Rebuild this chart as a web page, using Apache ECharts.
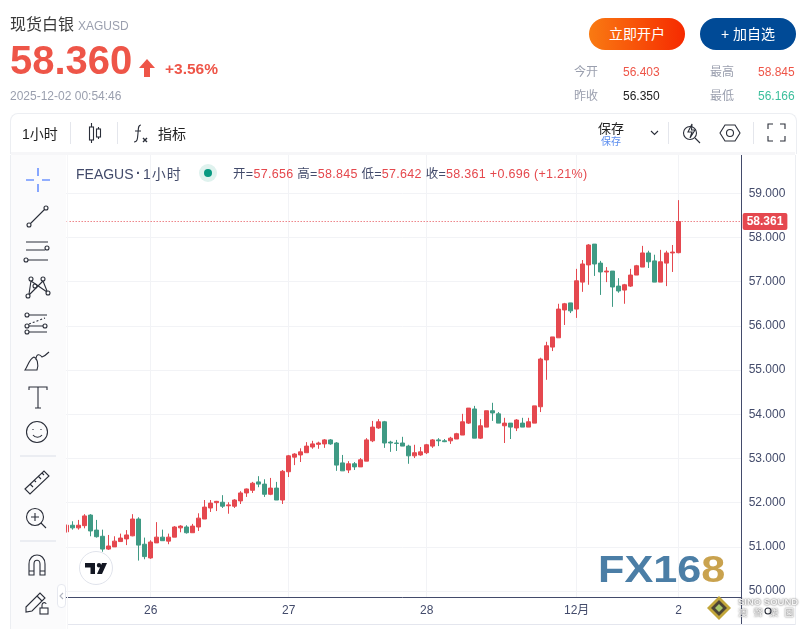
<!DOCTYPE html>
<html>
<head>
<meta charset="utf-8">
<title>现货白银 XAGUSD</title>
<script src="https://cdn.jsdelivr.net/npm/echarts@6/dist/echarts.min.js"></script>
<style>
  html, body { margin: 0; padding: 0; background: #fff; }
  body { width: 806px; height: 629px; overflow: hidden; position: relative;
         font-family: "Liberation Sans", "Noto Sans CJK SC", sans-serif; color: #333; }
  #chart { position: absolute; left: 0; top: 0; width: 806px; height: 629px; }
  .t { position: absolute; white-space: nowrap; line-height: 1; z-index: 5; }
  .box { position: absolute; z-index: 4; }
  svg.ic { position: absolute; z-index: 6; fill: none; stroke: #2a2e39; stroke-width: 1.1; overflow: visible; }
  .btn { position: absolute; top: 18px; height: 32px; width: 96px; border-radius: 16px; color: #fff;
         font-size: 14px; line-height: 32px; text-align: center; z-index: 5; }
  .red { color: #ee5548; }
  .grey { color: #9a9fae; }
</style>
</head>
<body>
<div id="chart"></div>

<!-- header -->
<div class="t" style="left:10px;top:17px;font-size:16px;color:#3a3a3a">现货白银</div>
<div class="t grey" style="left:78px;top:20px;font-size:12px">XAGUSD</div>
<div class="t red" style="left:10px;top:40px;font-size:40px;font-weight:bold">58.360</div>
<svg class="ic" style="left:139px;top:59px;stroke:none" width="17" height="18"><path fill="#ee5548" d="M8 0 L16 9 L11 9 L11 18 L5 18 L5 9 L0 9 Z"/></svg>
<div class="t red" style="left:165px;top:61px;font-size:15.500px;font-weight:bold">+3.56%</div>
<div class="t grey" style="left:10px;top:90px;font-size:12px">2025-12-02 00:54:46</div>

<div class="btn" style="left:589px;background:linear-gradient(90deg,#f97a12,#f62a00)">立即开户</div>
<div class="btn" style="left:700px;background:#004a96">+ 加自选</div>

<div class="t grey" style="left:574px;top:66px;font-size:12px">今开</div>
<div class="t red" style="left:623px;top:66px;font-size:12px">56.403</div>
<div class="t grey" style="left:710px;top:66px;font-size:12px">最高</div>
<div class="t red" style="left:758px;top:66px;font-size:12px">58.845</div>
<div class="t grey" style="left:574px;top:90px;font-size:12px">昨收</div>
<div class="t" style="left:623px;top:90px;font-size:12px;color:#222">56.350</div>
<div class="t grey" style="left:710px;top:90px;font-size:12px">最低</div>
<div class="t" style="left:758px;top:90px;font-size:12px;color:#3cbf9c">56.166</div>

<!-- card and top toolbar -->
<div class="box" style="left:10px;top:113px;width:785px;height:40px;border:1px solid #eceef2;border-bottom:0;border-radius:8px 8px 0 0;background:#fff"></div>
<div class="box" style="left:11px;top:152px;width:784px;height:3px;background:#f6f6f8"></div>
<div class="box" style="left:70px;top:122px;width:1px;height:22px;background:#e4e6ec;z-index:5"></div>
<div class="box" style="left:117px;top:122px;width:1px;height:22px;background:#e4e6ec;z-index:5"></div>
<div class="box" style="left:668px;top:122px;width:1px;height:22px;background:#e4e6ec;z-index:5"></div>
<div class="box" style="left:753px;top:122px;width:1px;height:22px;background:#e4e6ec;z-index:5"></div>
<div class="t" style="left:22px;top:127px;font-size:14px;color:#222">1小时</div>
<svg class="ic" style="left:87px;top:122px" width="16" height="22"><path d="M4.500 1V21M11.500 5V17"/><rect x="2.500" y="5" width="4" height="13" fill="#fff"/><rect x="9.500" y="7" width="4" height="8" fill="#fff"/></svg>
<svg class="ic" style="left:133px;top:124px" width="18" height="20"><path d="M8 1C5 1 5.500 4 5 9C4.500 15 4.500 18 1 18M2 7H8"/><path d="M10 14L14 18M14 14L10 18" stroke-width="1.400"/></svg>
<div class="t" style="left:158px;top:127px;font-size:14px;color:#222">指标</div>
<div class="t" style="left:598px;top:122px;font-size:13px;color:#222">保存</div>
<div class="t" style="left:601px;top:137px;font-size:10px;color:#5b8def">保存</div>
<svg class="ic" style="left:650px;top:130px" width="9" height="6"><path d="M1 1L4.500 4.500L8 1"/></svg>
<svg class="ic" style="left:682px;top:122px" width="18" height="22"><circle cx="8" cy="11" r="6.500"/><path d="M13 16L18 21"/><path d="M10 2L6 10H10L8 16L13 8H9.500Z" fill="#fff"/></svg>
<svg class="ic" style="left:720px;top:123px" width="20" height="20"><path d="M5 2H15L20 10L15 18H5L0 10Z"/><circle cx="10" cy="10" r="3.500"/></svg>
<svg class="ic" style="left:768px;top:124px" width="17" height="17"><path d="M0 5V0H5M12 0H17V5M17 12V17H12M5 17H0V12"/></svg>

<!-- left drawing toolbar -->
<div class="box" style="left:10px;top:155px;width:56px;height:474px;background:#fbfbfc;border-left:1px solid #eceef2;box-sizing:border-box"></div>
<div class="box" style="left:67px;top:155px;width:1px;height:474px;background:#f6f6f8"></div>
<svg class="ic" style="left:20px;top:165px" width="36" height="448">
  <path stroke="#2962ff" d="M6 15H14M22 15H30M18 3V11M18 19V27"/>
  <g transform="translate(0,36)"><circle cx="9" cy="24" r="2"/><circle cx="26" cy="7" r="2"/><path d="M10.500 22.500L24.500 8.500"/></g>
  <g transform="translate(0,72)"><path d="M6 5H28M6 13H25M8 23H28"/><circle cx="27" cy="11" r="2"/><circle cx="6" cy="23" r="2"/></g>
  <g transform="translate(0,108)"><circle cx="11" cy="6" r="2"/><circle cx="23" cy="6" r="2"/><circle cx="8" cy="23" r="2"/><circle cx="28" cy="20" r="2"/><circle cx="15" cy="13" r="2"/><path d="M9 21L11 8M11 8L27 19M23 8L9 22M23 8L27 18"/></g>
  <g transform="translate(0,145)"><circle cx="7" cy="5" r="2"/><circle cx="7" cy="16" r="2"/><circle cx="7" cy="22" r="2"/><circle cx="25" cy="16" r="2"/><path d="M9 5H27M9 16H23M9 22H27"/><path d="M9 14L25 8" stroke-dasharray="2 2"/></g>
  <g transform="translate(0,181)"><path d="M5 24H17C19 18 17 12 14 11C9 13 8 20 5 24ZM16 14C16 7 20 8 22 11C25 10 27 8 29 6"/></g>
  <g transform="translate(0,217)"><path d="M18 5V26M9 8V5H27V8M15 26H21"/></g>
  <g transform="translate(0,252)"><circle cx="17" cy="15" r="10.500"/><path d="M13 18C15 21 20 21 22 18M13 12V13M21 12V13"/></g>
  <path stroke="#dcdfe8" d="M0 291H36"/>
  <g transform="translate(0,300)"><path d="M5 24L24 6L29 11L10 29ZM10 19L13 22M14 15L16 17M18 11L21 14M22 8L24 10"/></g>
  <g transform="translate(0,337)"><circle cx="15" cy="15" r="8.500"/><path d="M21 21L26 26M11 15H19M15 11V19"/></g>
  <path stroke="#dcdfe8" d="M0 376H36"/>
  <g transform="translate(0,385)"><path d="M9 25V14C9 2 25 2 25 14V25H20V14C20 9 14 9 14 14V25ZM9 21H14M20 21H25"/></g>
  <g transform="translate(0,421)"><path d="M6 21L20 7L25 12L12 25L6 26ZM17 10L22 15"/><rect x="20" y="22" width="8" height="6" fill="#fff"/><path d="M22 22V19C22 16 26 16 26 18"/></g>
</svg>
<div class="box" style="left:57px;top:584px;width:9px;height:24px;background:#fff;border:1px solid #e6e8ef;border-radius:4px;box-sizing:border-box;z-index:6"></div>
<svg class="ic" style="left:59px;top:592px;stroke:#b0b4c0" width="5" height="8"><path d="M4 1L1 4L4 7"/></svg>

<!-- pane legend -->
<div class="t" style="left:76px;top:167px;font-size:14px;color:#434b6b">FEAGUS</div>
<div class="t" style="left:136px;top:166px;font-size:14px;font-weight:bold;color:#434b6b">·</div>
<div class="t" style="left:143px;top:167px;font-size:14px;letter-spacing:1px;color:#434b6b">1小时</div>
<div class="box" style="left:199px;top:164px;width:18px;height:18px;border-radius:9px;background:#dff2ee;z-index:5"></div>
<div class="box" style="left:204px;top:169px;width:8px;height:8px;border-radius:4px;background:#089981;z-index:6"></div>
<div class="t" style="left:233px;top:168px;font-size:12.500px;letter-spacing:0.300px;color:#e5484d"><span style="color:#434b6b">开=</span>57.656 <span style="color:#434b6b">高=</span>58.845 <span style="color:#434b6b">低=</span>57.642 <span style="color:#434b6b">收=</span>58.361 +0.696 (+1.21%)</div>

<!-- TV logo, watermarks -->
<div class="box" style="left:79px;top:551px;width:34px;height:34px;border-radius:17px;border:1px solid #e0e3eb;background:#fff;box-sizing:border-box"></div>
<svg class="ic" style="left:85px;top:563px;stroke:none" width="22" height="12"><path fill="#131722" d="M0 0H10V11H5.500V4.500H0ZM14 0A2.200 2.200 0 1 1 14 4.400A2.200 2.200 0 1 1 14 0ZM17 0H22L17 11H12Z"/></svg>
<div class="t" style="left:598px;top:552px;font-size:36px;font-weight:bold;color:#4b7ea6;transform:scaleX(1.200);transform-origin:left;z-index:3">FX16<span style="color:#c9a24e">8</span></div>
<svg class="ic" style="left:707px;top:596px;stroke:none" width="24" height="24"><path fill="#c2a63a" d="M12 0L24 12L12 24L0 12Z"/><path fill="#4c4436" d="M12 4L20 12L12 20L4 12Z"/><path fill="#a7c66a" d="M12 8L16 12L12 16L8 12Z"/></svg>
<div class="t" style="left:738px;top:597px;font-size:9.500px;font-weight:bold;color:#f4f4f4;text-shadow:0 0 2px #444;z-index:7">SINO SOUND</div>
<div class="t" style="left:738px;top:608px;font-size:9.500px;color:#f4f4f4;text-shadow:0 0 2px #444;letter-spacing:6px;z-index:7">澳聲樂園</div>
<svg class="ic" style="left:764px;top:607px;z-index:8" width="8" height="8"><circle cx="4" cy="4" r="3"/></svg>

<div class="box" style="left:741px;top:597px;width:1px;height:27px;background:#434b6b;z-index:1"></div>
<div class="box" style="left:68px;top:624px;width:727px;height:1px;background:#e4e6ee;z-index:1"></div>
<div class="box" style="left:795px;top:155px;width:1px;height:470px;background:#eceef2;z-index:1"></div>

<script>
// candle values, oldest first
const opens = [51.34, 51.49, 51.43, 51.48, 51.72, 51.38, 51.24, 50.95, 51.00, 51.12,
  51.18, 51.25, 51.63, 51.06, 50.75, 51.09, 51.22, 51.13, 51.22, 51.43,
  51.45, 51.32, 51.45, 51.63, 51.88, 52.00, 52.01, 51.93, 51.92, 52.04,
  52.22, 52.28, 52.47, 52.42, 52.19, 52.33, 52.06, 52.70, 53.03, 53.08,
  53.13, 53.26, 53.32, 53.33, 53.42, 53.35, 52.90, 52.74, 52.88, 52.81,
  52.94, 53.40, 53.69, 53.83, 53.37, 53.35, 53.35, 53.28, 53.06, 53.08,
  53.13, 53.28, 53.42, 53.40, 53.40, 53.44, 53.53, 53.80, 54.12, 53.46,
  53.71, 54.08, 54.01, 53.74, 53.80, 53.69, 53.80, 53.71, 53.80, 54.17,
  55.23, 55.52, 55.73, 56.36, 56.52, 56.38, 56.99, 57.38, 57.85, 57.42,
  57.22, 57.24, 56.90, 56.81, 56.90, 57.15, 57.33, 57.65, 57.47, 56.99,
  57.42, 57.65, 57.656];
const closes = [51.49, 51.43, 51.49, 51.70, 51.36, 51.23, 50.95, 51.02, 51.13, 51.20,
  51.27, 51.63, 51.04, 50.78, 51.11, 51.22, 51.14, 51.22, 51.45, 51.47,
  51.32, 51.47, 51.65, 51.90, 51.99, 52.03, 51.92, 51.95, 52.06, 52.22,
  52.31, 52.44, 52.42, 52.19, 52.33, 52.06, 52.71, 53.06, 53.10, 53.15,
  53.28, 53.33, 53.35, 53.42, 53.33, 52.85, 52.72, 52.88, 52.81, 52.97,
  53.42, 53.71, 53.83, 53.35, 53.35, 53.34, 53.28, 53.06, 53.13, 53.15,
  53.31, 53.42, 53.40, 53.38, 53.46, 53.56, 53.83, 54.14, 53.46, 53.74,
  54.08, 54.03, 53.80, 53.80, 53.71, 53.87, 53.71, 53.83, 54.19, 55.25,
  55.55, 55.75, 56.38, 56.50, 56.34, 57.02, 57.40, 57.83, 57.40, 57.22,
  57.24, 56.88, 56.79, 56.93, 57.15, 57.36, 57.65, 57.45, 56.99, 57.45,
  57.65, 57.67, 58.361];
const lows = [51.33, 51.39, 51.39, 51.42, 51.24, 51.21, 50.89, 50.93, 51.00, 51.12,
  51.04, 51.24, 50.69, 50.72, 50.73, 51.09, 51.14, 51.06, 51.22, 51.33,
  51.30, 51.32, 51.36, 51.63, 51.79, 51.81, 51.88, 51.75, 51.88, 51.97,
  52.13, 52.22, 52.35, 52.13, 52.17, 52.06, 51.97, 52.58, 52.85, 52.92,
  53.13, 53.22, 53.22, 53.24, 53.31, 52.72, 52.72, 52.67, 52.74, 52.81,
  52.94, 53.37, 53.67, 53.24, 53.15, 53.17, 53.28, 52.88, 53.01, 53.06,
  53.10, 53.24, 53.28, 53.37, 53.33, 53.44, 53.53, 53.78, 53.46, 53.44,
  53.71, 53.85, 53.80, 53.35, 53.44, 53.62, 53.71, 53.71, 53.80, 54.05,
  54.78, 55.43, 55.73, 56.02, 56.29, 56.18, 56.77, 56.93, 57.13, 56.70,
  56.99, 56.43, 56.75, 56.50, 56.88, 57.15, 57.33, 57.31, 56.99, 56.99,
  56.90, 57.22, 57.642];
const highs = [51.50, 51.58, 51.61, 51.74, 51.74, 51.61, 51.39, 51.27, 51.24, 51.30,
  51.38, 51.74, 51.67, 51.21, 51.15, 51.56, 51.39, 51.30, 51.47, 51.49,
  51.49, 51.52, 51.76, 52.06, 52.06, 52.04, 52.17, 52.01, 52.08, 52.26,
  52.32, 52.47, 52.60, 52.53, 52.56, 52.47, 52.74, 53.08, 53.12, 53.23,
  53.37, 53.40, 53.38, 53.44, 53.44, 53.37, 53.08, 52.94, 52.92, 53.01,
  53.46, 53.85, 53.89, 53.85, 53.40, 53.42, 53.49, 53.31, 53.31, 53.26,
  53.33, 53.44, 53.46, 53.44, 53.49, 53.58, 54.01, 54.14, 54.19, 53.89,
  54.08, 54.26, 54.05, 53.92, 53.80, 53.89, 53.92, 53.92, 54.19, 55.28,
  55.64, 55.75, 56.50, 56.52, 56.52, 57.29, 57.49, 57.85, 57.85, 57.47,
  57.33, 57.24, 57.08, 56.95, 57.29, 57.38, 57.81, 57.70, 57.61, 57.72,
  57.70, 57.83, 58.845];

const tickIndexes = [14, 37, 60, 85, 102];
const tickLabels = ['26', '27', '28', '12月', '2'];
const priceTicks = [50, 51, 52, 53, 54, 55, 56, 57, 58, 59];
const lastPrice = 58.361;
const emptySlots = 10; // blank room right of the last candle

const upColor = '#e5484f';
const downColor = '#3f9a84';
const textColor = '#434b6b';
const gridColor = '#f2f3f6';

const categories = [];
for (let i = 0; i < opens.length + emptySlots; i++) categories.push('c' + i);
const candleData = opens.map((o, i) => [o, closes[i], lows[i], highs[i]]);

const chart = echarts.init(document.getElementById('chart'), null, { renderer: 'canvas' });
chart.setOption({
  animation: false,
  backgroundColor: '#fff',
  grid: { left: 63.67, top: 155, width: 678, height: 442 },
  xAxis: {
    type: 'category',
    data: categories,
    axisLine: { lineStyle: { color: textColor, width: 1 } },
    axisTick: { show: false },
    axisLabel: {
      interval: (i) => tickIndexes.includes(i),
      formatter: (v, i) => tickLabels[tickIndexes.indexOf(i)] || '',
      color: textColor, fontSize: 12, margin: 8,
      fontFamily: '"Liberation Sans", "Noto Sans CJK SC", sans-serif'
    },
    splitLine: {
      show: true,
      alignWithLabel: true,
      interval: (i) => tickIndexes.includes(i),
      lineStyle: { color: gridColor, width: 1 }
    }
  },
  yAxis: {
    type: 'value',
    position: 'right',
    min: 49.866,
    max: 59.866,
    axisLine: { show: true, lineStyle: { color: textColor, width: 1 } },
    axisTick: { show: false, customValues: priceTicks },
    axisLabel: {
      customValues: priceTicks,
      formatter: (v) => v.toFixed(3),
      color: textColor, fontSize: 12, margin: 7,
      fontFamily: '"Liberation Sans", sans-serif'
    },
    splitLine: { show: true, lineStyle: { color: gridColor, width: 1 } }
  },
  series: [{
    type: 'candlestick',
    data: candleData,
    barWidth: 5,
    itemStyle: {
      color: upColor, color0: downColor,
      borderColor: upColor, borderColor0: downColor,
      borderWidth: 1
    },
    markLine: {
      silent: true,
      symbol: 'none',
      animation: false,
      data: [{ yAxis: lastPrice }],
      lineStyle: { color: upColor, type: [1, 2], width: 1 },
      label: {
        position: 'end',
        formatter: lastPrice.toFixed(3),
        color: '#fff', fontSize: 12, fontWeight: 'bold',
        backgroundColor: upColor,
        padding: [3, 4, 2, 4],
        borderRadius: 2,
        distance: 1,
        fontFamily: '"Liberation Sans", sans-serif'
      }
    }
  }]
});
</script>
</body>
</html>
